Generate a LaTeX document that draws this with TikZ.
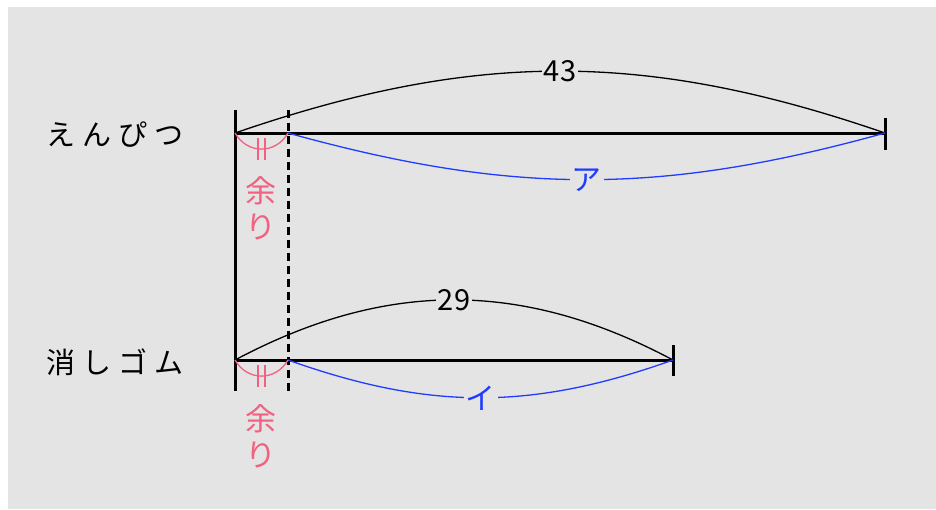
\documentclass[tikz,border=0pt]{standalone}
\usepackage{fontspec}
\newfontfamily\jpfont{Noto Sans CJK JP}
\newfontfamily\jpwidefont[LetterSpace=25]{Noto Sans CJK JP}
\definecolor{panelgray}{HTML}{E4E4E4}
\definecolor{restpink}{HTML}{F2617F}
\definecolor{partblue}{HTML}{1F3CFF}

\begin{document}
\begin{tikzpicture}[x=1pt,y=-1pt,font=\jpfont,
  bar/.style={draw=black,line width=3pt},
  cutline/.style={draw=black,line width=3pt,dash pattern=on 8pt off 5pt},
  whole/.style={draw=black,line width=1.3pt},
  part/.style={draw=partblue,line width=1.3pt},
  rest/.style={draw=restpink,line width=1.3pt},
  numlabel/.style={fill=panelgray,inner sep=2pt,font=\jpfont\fontsize{29}{32}\selectfont},
  partlabel/.style={fill=panelgray,inner sep=2pt,text=partblue,font=\jpfont\fontsize{30}{32}\selectfont},
  resttext/.style={text=restpink,align=center,inner sep=0pt,font=\jpfont\fontsize{31}{36}\selectfont},
  rowlabel/.style={anchor=west,inner sep=0pt,font=\jpwidefont\fontsize{29}{32}\selectfont}]
\useasboundingbox (0,0) rectangle (936,509);
\path[fill=panelgray,draw=none] (8,7) rectangle (936,509);
\coordinate (pencil-start) at (235,133);
\coordinate (pencil-cut) at (288,133);
\coordinate (pencil-end) at (885,133);
\coordinate (eraser-start) at (235,360);
\coordinate (eraser-cut) at (288,360);
\coordinate (eraser-end) at (673,360);
\coordinate (wall-top) at (235,110);
\coordinate (wall-bottom) at (235,391);
\coordinate (cut-top) at (288,110);
\coordinate (cut-bottom) at (288,391);
\coordinate (pencil-tick-top) at (885,118);
\coordinate (pencil-tick-bottom) at (885,150);
\coordinate (eraser-tick-top) at (673,345);
\coordinate (eraser-tick-bottom) at (673,376);
\node[rowlabel] (pencil-label) at (46,135) {えんぴつ};
\node[rowlabel] (eraser-label) at (46,362) {消しゴム};
\path[bar] (pencil-start) -- (pencil-end);
\path[bar] (eraser-start) -- (eraser-end);
\path[bar] (wall-top) -- (wall-bottom);
\path[bar] (pencil-tick-top) -- (pencil-tick-bottom);
\path[bar] (eraser-tick-top) -- (eraser-tick-bottom);
\path[cutline] (cut-top) -- (cut-bottom);
\path[whole] (pencil-start) to[bend left=19] node[numlabel] (pencil-total) {43} (pencil-end);
\path[whole] (eraser-start) to[bend left=28] node[numlabel] (eraser-total) {29} (eraser-end);
\path[part] (pencil-cut) to[bend right=15.5] node[partlabel] (pencil-part) {ア} (pencil-end);
\path[part] (eraser-cut) to[bend right=19.6] node[partlabel] (eraser-part) {イ} (eraser-end);
\path[rest] (pencil-start) to[out=-60,in=-120,looseness=1.2] coordinate[midway] (pencil-rest-mid) (pencil-cut);
\path[rest] (eraser-start) to[out=-60,in=-120,looseness=1.2] coordinate[midway] (eraser-rest-mid) (eraser-cut);
\foreach \row in {pencil,eraser}{
  \path[rest] ([xshift=-3.5pt,yshift=11pt]\row-rest-mid) -- ([xshift=-3.5pt,yshift=-11pt]\row-rest-mid);
  \path[rest] ([xshift=3.5pt,yshift=11pt]\row-rest-mid) -- ([xshift=3.5pt,yshift=-11pt]\row-rest-mid);
}
\node[resttext] (pencil-rest-text) at (261,208) {余\\り};
\node[resttext] (eraser-rest-text) at (261,436) {余\\り};
\end{tikzpicture}
\end{document}
